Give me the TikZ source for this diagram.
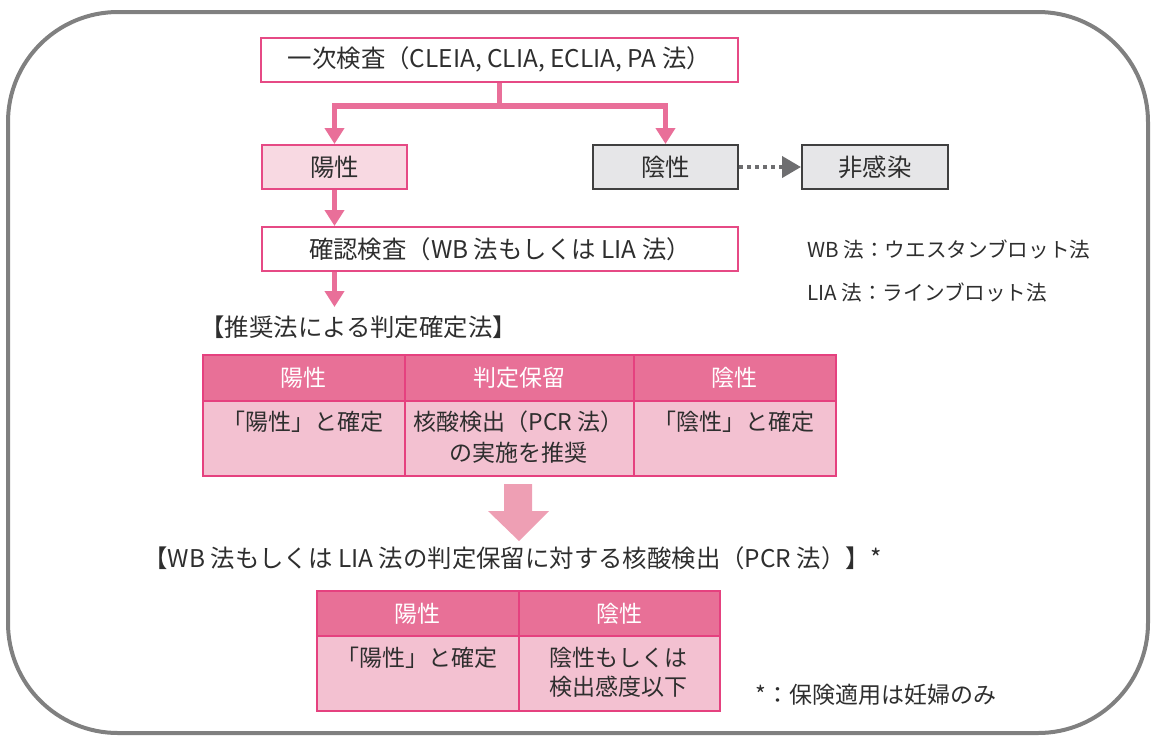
\documentclass[tikz,border=0pt]{standalone}
\usepackage{fontspec}
\setmainfont{Noto Sans CJK JP}
\usetikzlibrary{arrows.meta}
\definecolor{txt}{HTML}{2E2E2E}
\definecolor{boxpink}{HTML}{E64A85}
\definecolor{arrpink}{HTML}{E96F99}
\definecolor{lightpink}{HTML}{F8D9E2}
\definecolor{grayfill}{HTML}{E6E6E8}
\definecolor{grayline}{HTML}{404040}
\definecolor{dotgray}{HTML}{6E6E70}
\definecolor{headfill}{HTML}{E87097}
\definecolor{bodyfill}{HTML}{F3C1D1}
\definecolor{tabline}{HTML}{E5417F}
\definecolor{bigarrow}{HTML}{EE9FB4}
\definecolor{frame}{HTML}{808080}
\begin{document}
\begin{tikzpicture}[x=0.5pt,y=-0.5pt,
  font=\fontsize{11.5}{15}\selectfont, text=txt,
  bigfont/.style={font=\fontsize{12.2}{15}\selectfont},
  flowbox/.style={draw=boxpink, line width=1pt, fill=white, inner sep=0pt, minimum height=22pt, text=txt, bigfont},
  posbox/.style={flowbox, fill=lightpink},
  negbox/.style={draw=grayline, line width=1pt, fill=grayfill, inner sep=0pt, minimum height=22pt, minimum width=72.5pt, text=txt, bigfont},
  pinkflow/.style={draw=arrpink, line width=2.7pt},
  pinkarrow/.style={pinkflow, -{Triangle[width=9.5pt,length=8pt]}},
  dotarrow/.style={draw=dotgray, line width=2pt, dash pattern=on 2pt off 2pt, -{Triangle[width=10.5pt,length=9.5pt]}},
  headcell/.style={draw=tabline, line width=0.9pt, fill=headfill, text=white, inner sep=0pt, anchor=north west},
  bodycell/.style={draw=tabline, line width=0.9pt, fill=bodyfill, inner sep=0pt, anchor=north west},
  celltext/.style={text=txt, align=center, inner sep=0pt},
  plain/.style={text=txt, inner sep=0pt, anchor=west},
  legendtext/.style={plain, font=\fontsize{10.3}{14}\selectfont}
]
\useasboundingbox (0,0) rectangle (1152,736);
% outer frame
\draw[frame, line width=2pt, rounded corners=55pt] (8,12) rectangle (1148,733);

% flow boxes
\node[flowbox, minimum width=238.5pt] (b1) at (499.5,59.5) {一次検査（CLEIA, CLIA, ECLIA, PA 法）};
\node[posbox, minimum width=72.5pt] (pos) at (334.5,167) {陽性};
\node[negbox] (neg) at (665.5,167) {陰性};
\node[negbox, minimum width=73pt] (non) at (875,167) {非感染};
\node[flowbox, minimum width=238pt] (b2) at (500,249) {確認検査（WB 法もしくは LIA 法）};

\coordinate (j) at (499.5,106);
\coordinate (t1arrow) at (334.5,307);
\draw[pinkflow] (b1.south) -- (j);
\draw[pinkarrow] (j) -| (pos.north);
\draw[pinkarrow] (j) -| (neg.north);
\draw[pinkarrow] (pos.south) -- (pos.south |- b2.north);
\draw[pinkarrow] (t1arrow |- b2.south) -- (t1arrow);
\draw[dotarrow] (neg.east) -- (non.west);

% legend
\node[legendtext] (lg1) at (807,250) {WB 法：ウエスタンブロット法};
\node[legendtext] (lg2) at (807,293) {LIA 法：ラインブロット法};

% table 1
\node[plain, bigfont] (title1) at (200,327) {【推奨法による判定確定法】};
\node[headcell, minimum width=101pt, minimum height=23pt] (h11) at (202,354) {陽性};
\node[headcell, minimum width=114.5pt, minimum height=23pt] (h12) at (404,354) {判定保留};
\node[headcell, minimum width=101pt, minimum height=23pt] (h13) at (633,354) {陰性};
\node[bodycell, minimum width=101pt, minimum height=37.5pt] (c11) at (202,400) {};
\node[bodycell, minimum width=114.5pt, minimum height=37.5pt] (c12) at (404,400) {};
\node[bodycell, minimum width=101pt, minimum height=37.5pt] (c13) at (633,400) {};
\node[celltext] (x11) at (303,422) {「陽性」と確定};
\node[celltext, font=\fontsize{11.5}{15.5}\selectfont] (x12) at (518.5,437.5) {核酸検出（PCR 法）\\の実施を推奨};
\node[celltext] (x13) at (734,422) {「陰性」と確定};

% big arrow
\fill[bigarrow] (504,484) -- (532,484) -- (532,511) -- (549,511) -- (519,541) -- (488,511) -- (504,511) -- cycle;

% table 2
\node[plain, bigfont] (title2) at (143,558) {【WB 法もしくは LIA 法の判定保留に対する核酸検出（PCR 法）】*};
\node[headcell, minimum width=101pt, minimum height=22.5pt] (h21) at (316,590) {陽性};
\node[headcell, minimum width=100.5pt, minimum height=22.5pt] (h22) at (518,590) {陰性};
\node[bodycell, minimum width=101pt, minimum height=37.5pt] (c21) at (316,635) {};
\node[bodycell, minimum width=100.5pt, minimum height=37.5pt] (c22) at (518,635) {};
\node[celltext] (x21) at (417,658) {「陽性」と確定};
\node[celltext, font=\fontsize{11.5}{14.5}\selectfont] (x22) at (618.5,672.5) {陰性もしくは\\検出感度以下};

\node[plain] (foot) at (755,695) {*：保険適用は妊婦のみ};
\end{tikzpicture}
\end{document}
